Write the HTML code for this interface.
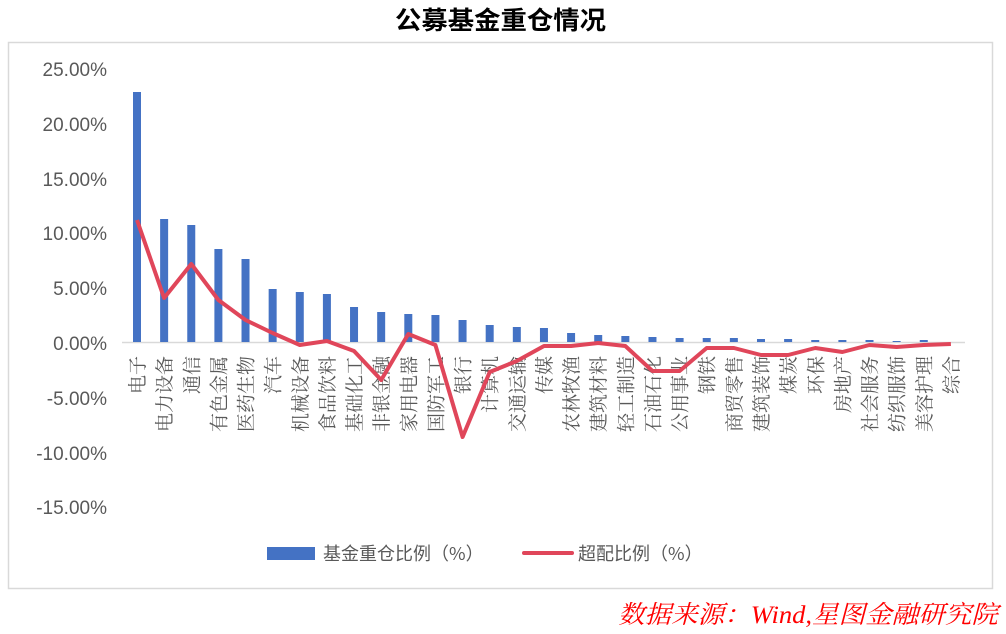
<!DOCTYPE html>
<html><head><meta charset="utf-8"><style>
html,body{margin:0;padding:0;background:#fff;}
svg{display:block;}
</style></head><body>
<svg width="1006" height="634" viewBox="0 0 1006 634" xmlns="http://www.w3.org/2000/svg">
<rect x="0" y="0" width="1006" height="634" fill="#fff"/>
<text x="395" y="29" textLength="211" lengthAdjust="spacingAndGlyphs" font-family="'Noto Sans CJK SC',sans-serif" font-weight="bold" font-size="25" fill="#000">公募基金重仓情况</text>
<rect x="8.5" y="42.5" width="984" height="546" fill="none" stroke="#d9d9d9" stroke-width="1.5"/>
<g font-family="'Liberation Sans',sans-serif" font-size="19" fill="#595959" text-anchor="end">
<text x="107" y="76">25.00%</text>
<text x="107" y="131">20.00%</text>
<text x="107" y="186">15.00%</text>
<text x="107" y="240">10.00%</text>
<text x="107" y="295">5.00%</text>
<text x="107" y="350">0.00%</text>
<text x="107" y="405">-5.00%</text>
<text x="107" y="460">-10.00%</text>
<text x="107" y="514">-15.00%</text>
</g>
<line x1="122" y1="342.5" x2="965" y2="342.5" stroke="#d9d9d9" stroke-width="1.5"/>
<g id="bars" fill="#4472c4"></g>
<g id="labels" font-family="'Noto Serif CJK SC',serif" font-size="19" fill="#595959"></g>
<polyline id="line" fill="none" stroke="#e0465a" stroke-width="4" stroke-linejoin="round" points=""/>
<rect x="267" y="547" width="48" height="13" fill="#4472c4"/>
<text x="323" y="560" font-family="'Noto Sans CJK SC',sans-serif" font-size="18" fill="#595959">基金重仓比例（%）</text>
<line x1="524" y1="553" x2="572" y2="553" stroke="#e0465a" stroke-width="4" stroke-linecap="round"/>
<text x="578" y="560" font-family="'Noto Sans CJK SC',sans-serif" font-size="18" fill="#595959">超配比例（%）</text>
<text x="618" y="623" textLength="380" lengthAdjust="spacingAndGlyphs" font-family="'Liberation Serif','Noto Serif CJK SC',serif" font-style="italic" font-size="25" fill="#ff0000">数据来源：Wind,星图金融研究院</text>
</svg>
<script>
var names=["电子","电力设备","通信","有色金属","医药生物","汽车","机械设备","食品饮料","基础化工","非银金融","家用电器","国防军工","银行","计算机","交通运输","传媒","农林牧渔","建筑材料","轻工制造","石油石化","公用事业","钢铁","商贸零售","建筑装饰","煤炭","环保","房地产","社会服务","纺织服饰","美容护理","综合"];
var tops=[92,219,225,249,259,289,292,294,307,312,314,315,320,325,327,328,333,335,336,337,338,338,338,339,339,340,340,340,341,340,342];
var ly=[220,298,264,300,320,333,345,341,351,380,334,345,437,372,361,346,346,343,346,371,371,348,348,355,355,348,352,345,347,345,344];
var ns="http://www.w3.org/2000/svg",bars=document.getElementById('bars'),lab=document.getElementById('labels'),pts=[];
for(var i=0;i<31;i++){var x=137+i*27.13;
var r=document.createElementNS(ns,'rect');r.setAttribute('x',x-4);r.setAttribute('y',tops[i]);r.setAttribute('width',8);r.setAttribute('height',342-tops[i]);bars.appendChild(r);
var t=document.createElementNS(ns,'text');t.setAttribute('transform','translate('+(x+7)+',356) rotate(-90)');t.setAttribute('text-anchor','end');t.textContent=names[i];lab.appendChild(t);
pts.push(x.toFixed(1)+','+ly[i]);}
document.getElementById('line').setAttribute('points',pts.join(' '));
</script>
</body></html>
